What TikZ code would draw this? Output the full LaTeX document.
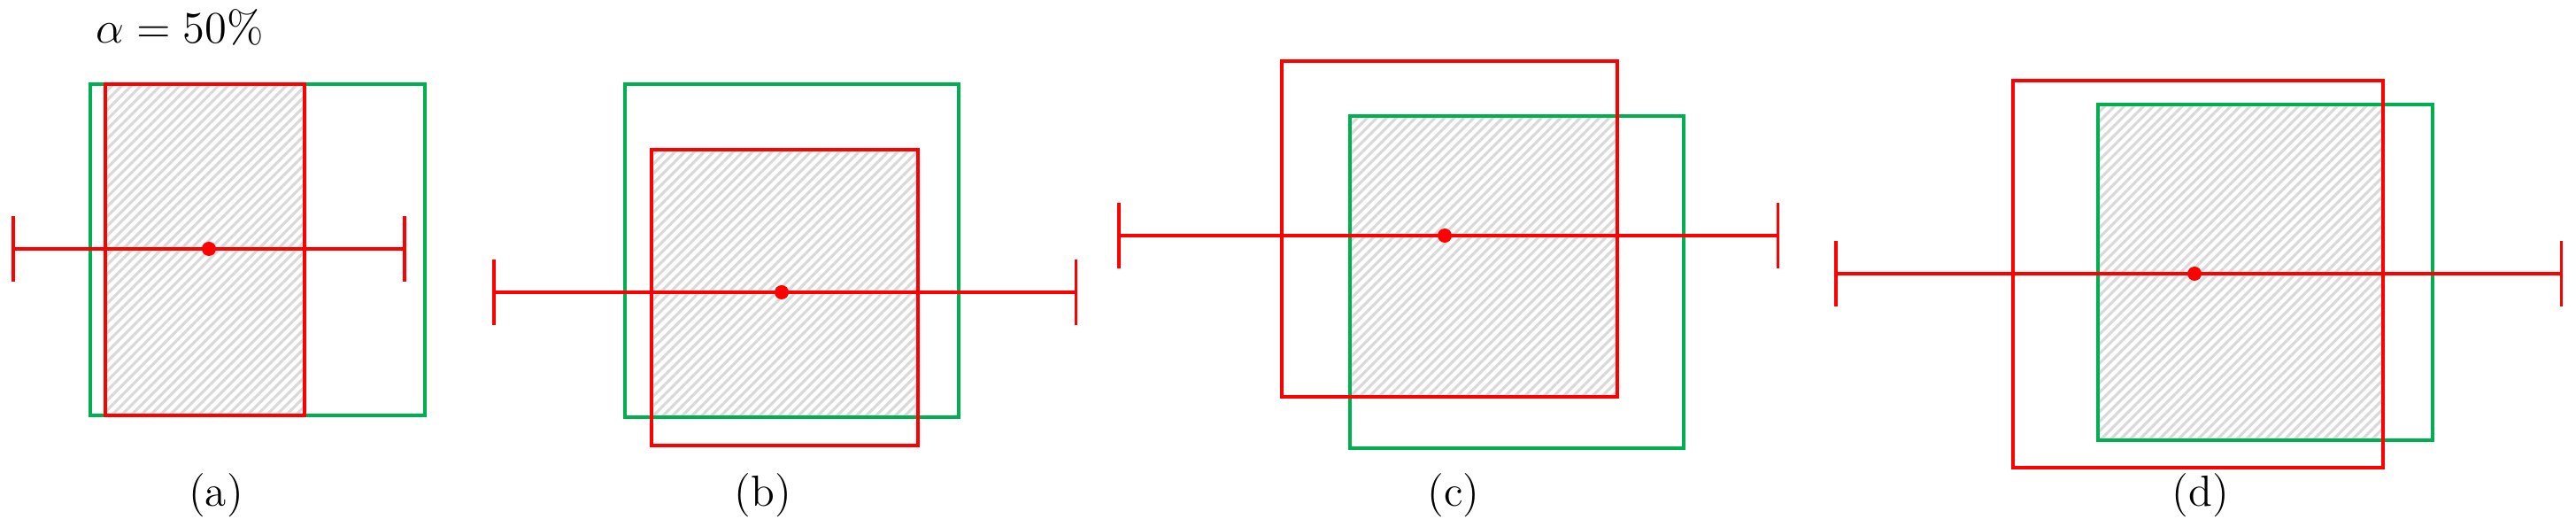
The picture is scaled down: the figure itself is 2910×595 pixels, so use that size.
\documentclass[tikz,border=0pt]{standalone}
\usepackage{amsmath,amssymb}
\usetikzlibrary{arrows.meta,patterns.meta}
\definecolor{gtgreen}{RGB}{0,176,80}
\definecolor{predred}{RGB}{255,0,0}

\begin{document}
\begin{tikzpicture}[x=0.1mm, y=-0.1mm,
  every node/.style={font=\fontsize{14}{17}\selectfont},
  gtbox/.style={draw=gtgreen, line width=1.1pt},
  predbox/.style={draw=predred, line width=1.1pt},
  overlap/.style={pattern={Lines[angle=45,distance=2.2pt,line width=0.9pt]}, pattern color=gray!30},
  errbar/.style={draw=predred, line width=1pt, {Bar[width=7.4mm]}-{Bar[width=7.4mm]}},
  centre/.style={circle, fill=predred, inner sep=0pt, minimum size=1.6mm}]
\useasboundingbox (0,0) rectangle (2910,595);

% (a)
\node (alpha) at (203,31) {$\alpha = 50\%$};
\fill[overlap] (119,95) rectangle (344,469);
\draw[gtbox] (102,95) rectangle (480,469);
\draw[predbox] (119,95) rectangle (344,469);
\coordinate (aL) at (13,281);
\coordinate (aR) at (459,281);
\draw[errbar] (aL) -- (aR);
\node (aC) [centre] at (236,281) {};
\node (capA) at (244,559) {(a)};

% (b)
\fill[overlap] (736,169) rectangle (1037,471);
\draw[gtbox] (706,95) rectangle (1083,471);
\draw[predbox] (736,169) rectangle (1037,503);
\coordinate (bL) at (556,330);
\coordinate (bR) at (1217,330);
\draw[errbar] (bL) -- (bR);
\node (bC) [centre] at (883,330) {};
\node (capB) at (862,559) {(b)};

% (c)
\fill[overlap] (1525,131) rectangle (1827,448);
\draw[gtbox] (1525,131) rectangle (1902,506);
\draw[predbox] (1448,69) rectangle (1827,448);
\coordinate (cL) at (1262,266);
\coordinate (cR) at (2010,266);
\draw[errbar] (cL) -- (cR);
\node (cC) [centre] at (1632,266) {};
\node (capC) at (1642,559) {(c)};

% (d)
\fill[overlap] (2370,118) rectangle (2692,497);
\draw[gtbox] (2370,118) rectangle (2748,497);
\draw[predbox] (2274,91) rectangle (2692,528);
\coordinate (dL) at (2072,309);
\coordinate (dR) at (2895,309);
\draw[errbar] (dL) -- (dR);
\node (dC) [centre] at (2479,309) {};
\node (capD) at (2486,559) {(d)};
\end{tikzpicture}
\end{document}
